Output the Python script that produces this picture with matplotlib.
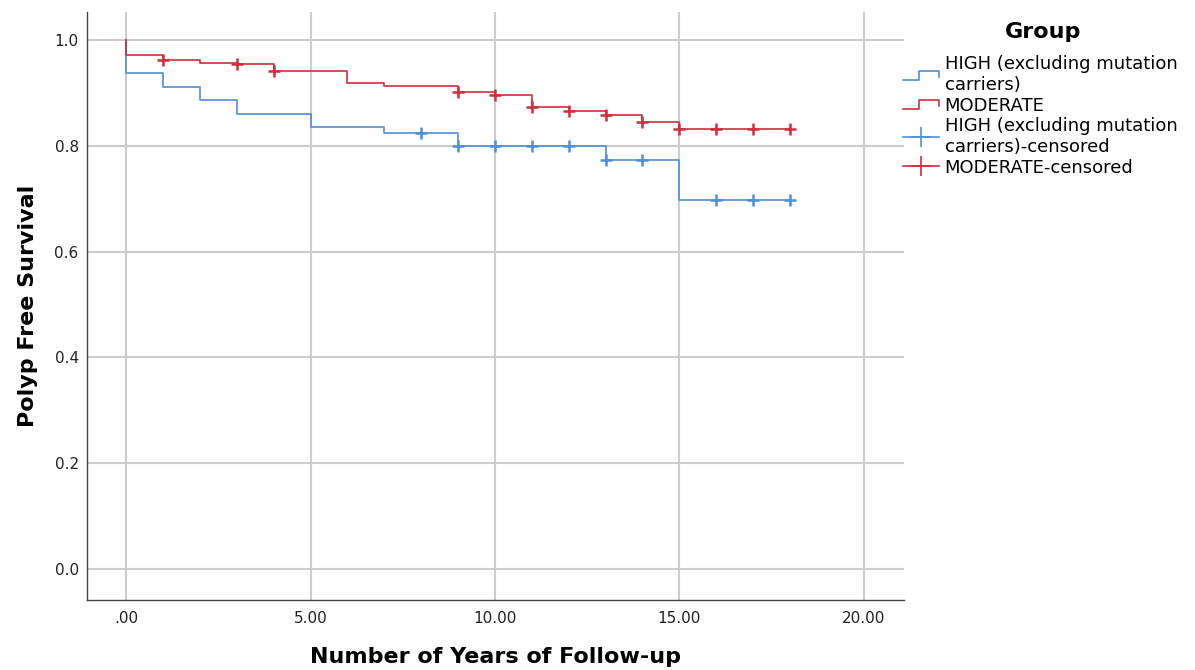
import numpy as np
import matplotlib
matplotlib.use("Agg")
import matplotlib.pyplot as plt
from matplotlib.lines import Line2D
from matplotlib.legend_handler import HandlerBase

# step data (time in years, survival)
high_t = [0, 0, 1, 2, 3, 5, 7, 9, 13, 15, 18]
high_s = [1.0, 0.938, 0.912, 0.887, 0.861, 0.836, 0.825, 0.800, 0.774, 0.697, 0.697]
high_cens = [8, 9, 10, 11, 12, 13, 14, 16, 17, 18]

mod_t = [0, 0, 1, 2, 3, 4, 6, 7, 9, 10, 11, 12, 13, 14, 15, 18]
mod_s = [1.0, 0.972, 0.963, 0.957, 0.954, 0.941, 0.918, 0.914, 0.901, 0.896,
         0.873, 0.865, 0.858, 0.846, 0.832, 0.832]
mod_cens = [1, 3, 4, 9, 10, 11, 12, 13, 14, 15, 16, 17, 18]

x_ticks = [0, 5, 10, 15, 20]
x_labels = [".00", "5.00", "10.00", "15.00", "20.00"]
y_ticks = [0.0, 0.2, 0.4, 0.6, 0.8, 1.0]
legend_labels = ["HIGH (excluding mutation\ncarriers)", "MODERATE",
                 "HIGH (excluding mutation\ncarriers)-censored", "MODERATE-censored"]

BLUE = "#4f8fdc"
RED = "#cf2f3b"
GRID = "#cccccc"


def step_value(times, surv, t):
    # survival at time t from a right-continuous step function
    idx = np.searchsorted(times, t, side='right') - 1
    return surv[idx]


class StepHandler(HandlerBase):
    def create_artists(self, legend, orig_handle, xdescent, ydescent,
                       width, height, fontsize, trans):
        x0 = -xdescent
        y0 = -ydescent
        xs = [x0, x0 + 0.45 * width, x0 + 0.45 * width, x0 + width, x0 + width]
        ys = [y0 + 0.15 * height, y0 + 0.15 * height, y0 + 0.85 * height,
              y0 + 0.85 * height, y0 + 0.35 * height]
        ln = Line2D(xs, ys, color=orig_handle.get_color(), lw=1.2, transform=trans)
        return [ln]


fig = plt.figure(figsize=(11.95, 6.70), dpi=100)
ax = fig.add_axes([0.0728, 0.1045, 0.684, 0.8775])

ax.step(high_t, high_s, where='post', color=BLUE, lw=1.2, zorder=3)
ax.step(mod_t, mod_s, where='post', color=RED, lw=1.2, zorder=3)

hy = [step_value(high_t, high_s, t) for t in high_cens]
my = [step_value(mod_t, mod_s, t) for t in mod_cens]
ax.plot(high_cens, hy, '+', color=BLUE, ms=9, mew=1.8, zorder=4)
ax.plot(mod_cens, my, '+', color=RED, ms=9, mew=1.8, zorder=4)

ax.set_xlim(-1.06, 21.1)
ax.set_ylim(-0.059, 1.053)
ax.set_xticks(x_ticks)
ax.set_xticklabels(x_labels)
ax.set_yticks(y_ticks)
ax.set_yticklabels(["%.1f" % v for v in y_ticks])
ax.tick_params(length=0, labelsize=11, colors="#222222")
ax.tick_params(axis='x', pad=8)
ax.tick_params(axis='y', pad=6)
ax.grid(True, color=GRID, lw=1.5)
ax.set_axisbelow(True)
for side in ['top', 'right']:
    ax.spines[side].set_visible(False)
for side in ['left', 'bottom']:
    ax.spines[side].set_color("#444444")
    ax.spines[side].set_linewidth(1.0)

ax.set_xlabel("Number of Years of Follow-up", fontsize=16, fontweight='bold', labelpad=15)
ax.set_ylabel("Polyp Free Survival", fontsize=16, fontweight='bold', labelpad=12)

fig.text(1043 / 1195, 1 - 32 / 670, "Group", fontsize=16, fontweight='bold',
         ha='center', va='center')

h1 = Line2D([], [], color=BLUE)
h2 = Line2D([], [], color=RED)
h3 = Line2D([], [], color=BLUE, marker='+', ms=15, mew=1.2, lw=1.2)
h4 = Line2D([], [], color=RED, marker='+', ms=15, mew=1.2, lw=1.2)
leg = fig.legend([h1, h2, h3, h4], legend_labels,
                 handler_map={h1: StepHandler(), h2: StepHandler()},
                 loc='upper left', bbox_to_anchor=(903 / 1195, 1 - 55 / 670),
                 frameon=False, fontsize=13, borderpad=0, borderaxespad=0,
                 handlelength=2.0, handletextpad=0.3, labelspacing=0.15)

fig.savefig("out.png", dpi=100)
